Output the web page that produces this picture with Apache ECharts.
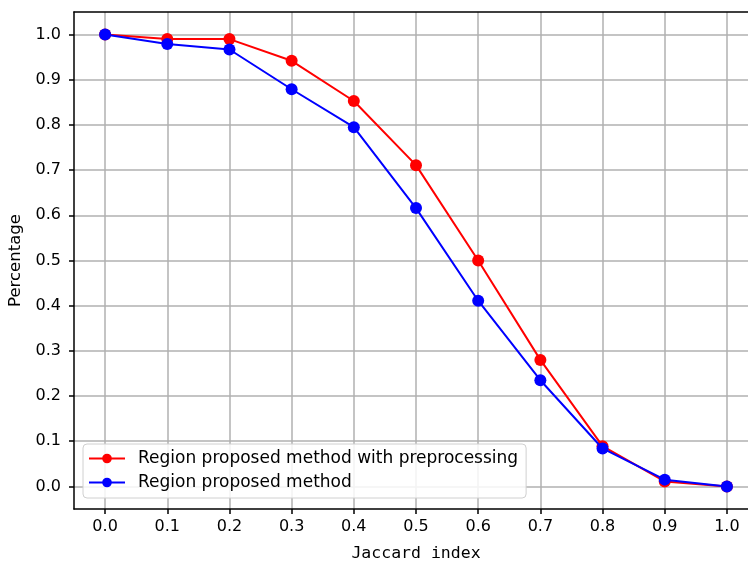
<!DOCTYPE html>
<html>
<head>
<meta charset="utf-8">
<script src="https://cdn.jsdelivr.net/npm/echarts@6/dist/echarts.min.js"></script>
<style>
  html, body { margin: 0; padding: 0; background: #fff; }
  #main { width: 748px; height: 563px; }
</style>
</head>
<body>
<div id="main"></div>
<script>
// Jaccard 阈值
var jaccard = [0.0, 0.1, 0.2, 0.3, 0.4, 0.5, 0.6, 0.7, 0.8, 0.9, 1.0];
// 两条曲线
var withPre = [1.0, 0.99, 0.99, 0.942, 0.853, 0.711, 0.500, 0.280, 0.089, 0.011, 0.0];
var noPre = [1.0, 0.979, 0.967, 0.879, 0.795, 0.616, 0.411, 0.235, 0.084, 0.015, 0.0];
// 刻度
var xTicks = [0.0, 0.1, 0.2, 0.3, 0.4, 0.5, 0.6, 0.7, 0.8, 0.9, 1.0];
var yTicks = [0.0, 0.1, 0.2, 0.3, 0.4, 0.5, 0.6, 0.7, 0.8, 0.9, 1.0];
var names = ['Region proposed method with preprocessing', 'Region proposed method'];

function pairs(xs, ys) {
    var out = [];
    for (var i = 0; i < xs.length; i++) {
        out.push([xs[i], ys[i]]);
    }
    return out;
}

function fmt(v) {
    return v.toFixed(1);
}

var spine = { show: true, onZero: false, lineStyle: { color: '#000', width: 1.5 } };

var myChart = echarts.init(document.getElementById('main'));
var option = {
    animation: false,
    backgroundColor: '#fff',
    grid: {
        left: 74,
        top: 12,
        right: -10,
        bottom: 54,
        containLabel: false,
        outerBoundsMode: 'none',
        show: false
    },
    legend: {
        orient: 'vertical',
        left: 83,
        top: 444,
        data: names,
        itemWidth: 36,
        itemHeight: 12,
        itemGap: 7,
        padding: [6, 8, 7, 5],
        backgroundColor: 'rgba(255,255,255,0.85)',
        borderColor: '#d0d0d0',
        borderWidth: 1,
        borderRadius: 4,
        textStyle: { fontFamily: 'DejaVu Sans', fontSize: 17, color: '#000', padding: [0, 0, 0, 8] }
    },
    xAxis: [{
        type: 'value',
        min: -0.05,
        max: 1.05,
        name: 'Jaccard index',
        nameLocation: 'middle',
        nameGap: 36,
        nameTextStyle: { fontFamily: 'DejaVu Sans Mono', fontSize: 16.5, color: '#000' },
        axisLine: spine,
        axisTick: { show: true, inside: false, length: 5, lineStyle: { color: '#000', width: 1.5 }, customValues: xTicks },
        axisLabel: { margin: 10, customValues: xTicks, formatter: fmt, fontFamily: 'DejaVu Sans', fontSize: 16, color: '#000' },
        splitLine: { show: true, lineStyle: { color: '#b0b0b0', width: 1.5 } }
    }, {
        // 上边框
        type: 'value',
        position: 'top',
        min: -0.05,
        max: 1.05,
        axisLine: spine,
        axisTick: { show: false },
        axisLabel: { show: false },
        splitLine: { show: false }
    }],
    yAxis: {
        type: 'value',
        min: -0.05,
        max: 1.05,
        name: 'Percentage',
        nameLocation: 'middle',
        nameGap: 44,
        nameTextStyle: { fontFamily: 'DejaVu Sans', fontSize: 16.5, color: '#000' },
        axisLine: spine,
        axisTick: { show: true, inside: false, length: 5, lineStyle: { color: '#000', width: 1.5 }, customValues: yTicks },
        axisLabel: { margin: 13, customValues: yTicks, formatter: fmt, fontFamily: 'DejaVu Sans', fontSize: 16, color: '#000' },
        splitLine: { show: true, lineStyle: { color: '#b0b0b0', width: 1.5 } }
    },
    series: [
        {
            name: names[0],
            type: 'line',
            data: pairs(jaccard, withPre),
            symbol: 'circle',
            symbolSize: 12,
            lineStyle: { color: '#ff0000', width: 2 },
            itemStyle: { color: '#ff0000' },
            clip: false,
            z: 2
        },
        {
            name: names[1],
            type: 'line',
            data: pairs(jaccard, noPre),
            symbol: 'circle',
            symbolSize: 12,
            lineStyle: { color: '#0000ff', width: 2 },
            itemStyle: { color: '#0000ff' },
            clip: false,
            z: 3
        }
    ]
};
myChart.setOption(option);
</script>
</body>
</html>
